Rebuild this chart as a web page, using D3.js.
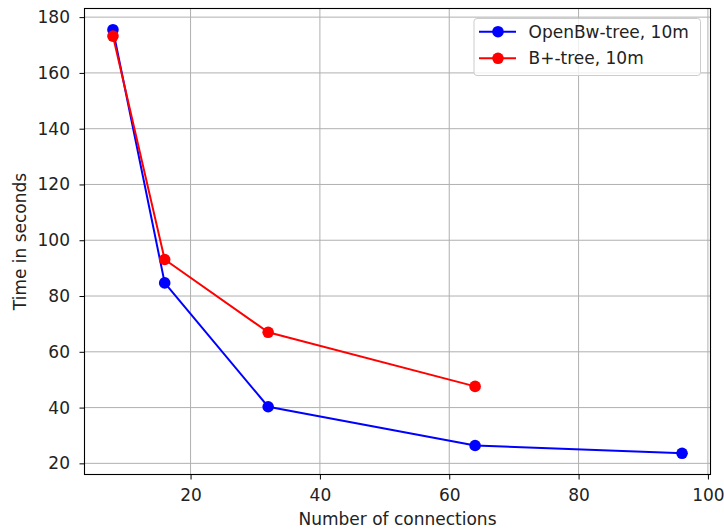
<!DOCTYPE html>
<html>
<head>
<meta charset="utf-8">
<script src="https://cdn.jsdelivr.net/npm/d3@7/dist/d3.min.js"></script>
<style>
  html, body { margin: 0; padding: 0; background: #fff; }
  svg { display: block; font-family: "DejaVu Sans", sans-serif; }
</style>
</head>
<body>
<svg id="chart" width="724" height="529"></svg>
<script>
// Number of client connections per run
const connections = [8, 16, 32, 64, 96];
// Completion time (seconds) for each index structure
const openBwTime = [175.5, 84.7, 40.3, 26.4, 23.6];
const bPlusTime = [173.2, 93.1, 67.0, 47.6];
const seriesNames = ["OpenBw-tree, 10m", "B+-tree, 10m"];
const seriesColors = ["#0000ff", "#ff0000"];
const xTicks = [20, 40, 60, 80, 100];
const yTicks = [20, 40, 60, 80, 100, 120, 140, 160, 180];

const series = [
  { name: seriesNames[0], color: seriesColors[0], pts: openBwTime.map((v, i) => [connections[i], v]) },
  { name: seriesNames[1], color: seriesColors[1], pts: bPlusTime.map((v, i) => [connections[i], v]) }
];

const svg = d3.select("#chart");
const plot = { left: 84.5, right: 710.5, top: 8.5, bottom: 474.5 };

// Auto-scaled limits with 5% margins, like the usual plotting defaults
const allX = connections;
const allY = openBwTime.concat(bPlusTime);
const pad = (lo, hi) => [lo - (hi - lo) * 0.05, hi + (hi - lo) * 0.05];
const x = d3.scaleLinear().domain(pad(d3.min(allX), d3.max(allX))).range([plot.left, plot.right]);
const y = d3.scaleLinear().domain(pad(d3.min(allY), d3.max(allY))).range([plot.bottom, plot.top]);

// Grid
const grid = svg.append("g").attr("stroke", "#b0b0b0").attr("stroke-width", 1);
xTicks.forEach(t => grid.append("line")
  .attr("x1", x(t)).attr("x2", x(t)).attr("y1", plot.top).attr("y2", plot.bottom));
yTicks.forEach(t => grid.append("line")
  .attr("x1", plot.left).attr("x2", plot.right).attr("y1", y(t)).attr("y2", y(t)));

// Axes
const fontSize = 17;
const xAxis = svg.append("g")
  .attr("transform", `translate(0,${plot.bottom})`)
  .call(d3.axisBottom(x).tickValues(xTicks).tickSize(5).tickPadding(9.5));
const yAxis = svg.append("g")
  .attr("transform", `translate(${plot.left},0)`)
  .call(d3.axisLeft(y).tickValues(yTicks).tickSize(5).tickPadding(9.5));
[xAxis, yAxis].forEach(a => {
  a.select(".domain").remove();
  a.selectAll(".tick line").attr("stroke", "#000").attr("stroke-width", 1);
  a.selectAll(".tick text").attr("fill", "#222").style("font-size", fontSize + "px")
    .style("font-family", "DejaVu Sans, sans-serif");
});

// Lines and markers
const line = d3.line().x(d => x(d[0])).y(d => y(d[1]));
series.forEach(s => {
  svg.append("path").datum(s.pts)
    .attr("d", line).attr("fill", "none")
    .attr("stroke", s.color).attr("stroke-width", 2)
    .attr("stroke-linejoin", "round").attr("stroke-linecap", "square");
  svg.append("g").selectAll("circle").data(s.pts).join("circle")
    .attr("cx", d => x(d[0])).attr("cy", d => y(d[1]))
    .attr("r", 5.8).attr("fill", s.color);
});

// Frame
svg.append("rect")
  .attr("x", plot.left).attr("y", plot.top)
  .attr("width", plot.right - plot.left).attr("height", plot.bottom - plot.top)
  .attr("fill", "none").attr("stroke", "#000").attr("stroke-width", 1.1);

// Axis titles
svg.append("text")
  .attr("x", (plot.left + plot.right) / 2).attr("y", 525)
  .attr("text-anchor", "middle").attr("fill", "#222")
  .style("font-size", fontSize + "px")
  .text("Number of connections");
svg.append("text")
  .attr("transform", `translate(26,${(plot.top + plot.bottom) / 2}) rotate(-90)`)
  .attr("text-anchor", "middle").attr("fill", "#222")
  .style("font-size", fontSize + "px")
  .text("Time in seconds");

// Legend
const legend = svg.append("g");
legend.append("rect")
  .attr("x", 474).attr("y", 18.5).attr("width", 226.5).attr("height", 57)
  .attr("rx", 3).attr("fill", "#fff").attr("fill-opacity", 0.8)
  .attr("stroke", "#cccccc").attr("stroke-width", 1);
series.forEach((s, i) => {
  const ly = 31.7 + i * 26.6;
  legend.append("line")
    .attr("x1", 479).attr("x2", 516).attr("y1", ly).attr("y2", ly)
    .attr("stroke", s.color).attr("stroke-width", 2);
  legend.append("circle").attr("cx", 498).attr("cy", ly).attr("r", 5.8).attr("fill", s.color);
  legend.append("text")
    .attr("x", 528.5).attr("y", ly).attr("dy", "0.36em")
    .attr("fill", "#222").style("font-size", fontSize + "px")
    .text(s.name);
});
</script>
</body>
</html>
